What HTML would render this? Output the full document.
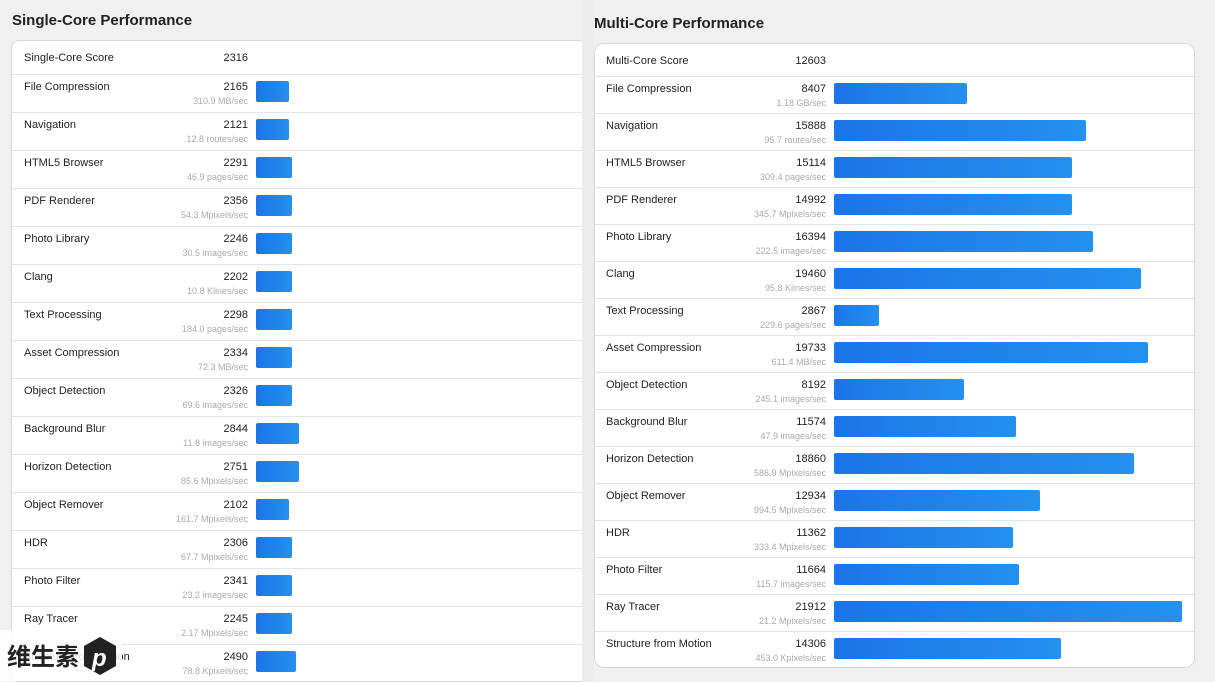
<!DOCTYPE html>
<html><head><meta charset="utf-8"><style>
*{margin:0;padding:0;box-sizing:border-box}
body{width:1215px;height:681px;background:#f0f0f0;font-family:"Liberation Sans",Arial,sans-serif;position:relative;overflow:hidden}
h2{position:absolute;font-size:15px;font-weight:bold;color:#222}
.panel{position:absolute;background:#fff;border:1px solid #d8d8d8;border-radius:8px;overflow:hidden}
.row{position:absolute;left:0;right:0;border-bottom:1px solid #e4e4e4}
.n{position:absolute;font-size:11px;color:#222}
.s{position:absolute;font-size:11px;color:#222;text-align:right;width:100px}
.u{position:absolute;font-size:9px;color:#aaa;text-align:right;width:140px}
.b{position:absolute;height:21px;border-radius:2px;background:linear-gradient(90deg,#1a75e8,#2590ee)}
.L .n{left:12px}.L .s{left:136px}.L .u{left:96px}.L .b{left:244px}
.R .n{left:11px}.R .s{left:131px}.R .u{left:91px}.R .b{left:239px}
.L .row{height:38px}.R .row{height:37px}
.L .n,.L .s,.R .n,.R .s{top:6px}.L .u,.R .u{top:21px}.L .b{top:6px}.R .b{top:6px}
.hdr .n,.hdr .s{top:11px}
</style></head><body>
<h2 style="left:12px;top:12px">Single-Core Performance</h2>
<h2 style="left:594px;top:15px">Multi-Core Performance</h2>
<div class="panel L" style="left:11px;top:40px;width:571px;height:642px;border-right:none;border-radius:8px 0 0 8px">
<div class="row hdr" style="top:0;height:34px"><span class="n">Single-Core Score</span><span class="s">2316</span></div>
<div class="row" style="top:34px"><span class="n">File Compression</span><span class="s">2165</span><span class="u">310.9 MB/sec</span><span class="b" style="width:33px"></span></div>
<div class="row" style="top:72px"><span class="n">Navigation</span><span class="s">2121</span><span class="u">12.8 routes/sec</span><span class="b" style="width:33px"></span></div>
<div class="row" style="top:110px"><span class="n">HTML5 Browser</span><span class="s">2291</span><span class="u">46.9 pages/sec</span><span class="b" style="width:36px"></span></div>
<div class="row" style="top:148px"><span class="n">PDF Renderer</span><span class="s">2356</span><span class="u">54.3 Mpixels/sec</span><span class="b" style="width:36px"></span></div>
<div class="row" style="top:186px"><span class="n">Photo Library</span><span class="s">2246</span><span class="u">30.5 images/sec</span><span class="b" style="width:36px"></span></div>
<div class="row" style="top:224px"><span class="n">Clang</span><span class="s">2202</span><span class="u">10.8 Klines/sec</span><span class="b" style="width:36px"></span></div>
<div class="row" style="top:262px"><span class="n">Text Processing</span><span class="s">2298</span><span class="u">184.0 pages/sec</span><span class="b" style="width:36px"></span></div>
<div class="row" style="top:300px"><span class="n">Asset Compression</span><span class="s">2334</span><span class="u">72.3 MB/sec</span><span class="b" style="width:36px"></span></div>
<div class="row" style="top:338px"><span class="n">Object Detection</span><span class="s">2326</span><span class="u">69.6 images/sec</span><span class="b" style="width:36px"></span></div>
<div class="row" style="top:376px"><span class="n">Background Blur</span><span class="s">2844</span><span class="u">11.8 images/sec</span><span class="b" style="width:43px"></span></div>
<div class="row" style="top:414px"><span class="n">Horizon Detection</span><span class="s">2751</span><span class="u">85.6 Mpixels/sec</span><span class="b" style="width:43px"></span></div>
<div class="row" style="top:452px"><span class="n">Object Remover</span><span class="s">2102</span><span class="u">161.7 Mpixels/sec</span><span class="b" style="width:33px"></span></div>
<div class="row" style="top:490px"><span class="n">HDR</span><span class="s">2306</span><span class="u">67.7 Mpixels/sec</span><span class="b" style="width:36px"></span></div>
<div class="row" style="top:528px"><span class="n">Photo Filter</span><span class="s">2341</span><span class="u">23.2 images/sec</span><span class="b" style="width:36px"></span></div>
<div class="row" style="top:566px"><span class="n">Ray Tracer</span><span class="s">2245</span><span class="u">2.17 Mpixels/sec</span><span class="b" style="width:36px"></span></div>
<div class="row" style="top:604px;border-bottom:2px solid #ddd"><span class="n">Structure from Motion</span><span class="s">2490</span><span class="u">78.8 Kpixels/sec</span><span class="b" style="width:40px"></span></div>
</div>
<div style="position:absolute;left:582px;top:0;width:12px;height:681px;background:#ececec"></div>
<div class="panel R" style="left:594px;top:43px;width:601px;height:625px;border-radius:10px">
<div class="row hdr" style="top:0;height:33px"><span class="n">Multi-Core Score</span><span class="s">12603</span></div>
<div class="row" style="top:33px"><span class="n">File Compression</span><span class="s">8407</span><span class="u">1.18 GB/sec</span><span class="b" style="width:133px"></span></div>
<div class="row" style="top:70px"><span class="n">Navigation</span><span class="s">15888</span><span class="u">95.7 routes/sec</span><span class="b" style="width:252px"></span></div>
<div class="row" style="top:107px"><span class="n">HTML5 Browser</span><span class="s">15114</span><span class="u">309.4 pages/sec</span><span class="b" style="width:238px"></span></div>
<div class="row" style="top:144px"><span class="n">PDF Renderer</span><span class="s">14992</span><span class="u">345.7 Mpixels/sec</span><span class="b" style="width:238px"></span></div>
<div class="row" style="top:181px"><span class="n">Photo Library</span><span class="s">16394</span><span class="u">222.5 images/sec</span><span class="b" style="width:259px"></span></div>
<div class="row" style="top:218px"><span class="n">Clang</span><span class="s">19460</span><span class="u">95.8 Klines/sec</span><span class="b" style="width:307px"></span></div>
<div class="row" style="top:255px"><span class="n">Text Processing</span><span class="s">2867</span><span class="u">229.6 pages/sec</span><span class="b" style="width:45px"></span></div>
<div class="row" style="top:292px"><span class="n">Asset Compression</span><span class="s">19733</span><span class="u">611.4 MB/sec</span><span class="b" style="width:314px"></span></div>
<div class="row" style="top:329px"><span class="n">Object Detection</span><span class="s">8192</span><span class="u">245.1 images/sec</span><span class="b" style="width:130px"></span></div>
<div class="row" style="top:366px"><span class="n">Background Blur</span><span class="s">11574</span><span class="u">47.9 images/sec</span><span class="b" style="width:182px"></span></div>
<div class="row" style="top:403px"><span class="n">Horizon Detection</span><span class="s">18860</span><span class="u">586.9 Mpixels/sec</span><span class="b" style="width:300px"></span></div>
<div class="row" style="top:440px"><span class="n">Object Remover</span><span class="s">12934</span><span class="u">994.5 Mpixels/sec</span><span class="b" style="width:206px"></span></div>
<div class="row" style="top:477px"><span class="n">HDR</span><span class="s">11362</span><span class="u">333.4 Mpixels/sec</span><span class="b" style="width:179px"></span></div>
<div class="row" style="top:514px"><span class="n">Photo Filter</span><span class="s">11664</span><span class="u">115.7 images/sec</span><span class="b" style="width:185px"></span></div>
<div class="row" style="top:551px"><span class="n">Ray Tracer</span><span class="s">21912</span><span class="u">21.2 Mpixels/sec</span><span class="b" style="width:348px"></span></div>
<div class="row" style="top:588px;border-bottom:none"><span class="n">Structure from Motion</span><span class="s">14306</span><span class="u">453.0 Kpixels/sec</span><span class="b" style="width:227px"></span></div>
</div>
<div style="position:absolute;left:0;top:630px;width:122px;height:51px;background:rgba(255,255,255,0.85);border-radius:0 6px 0 0"></div>
<div style="position:absolute;left:7px;top:640px;font-family:'Noto Sans CJK SC',sans-serif;font-weight:bold;font-size:24px;color:#222;line-height:30px">维生素</div>
<svg style="position:absolute;left:82px;top:636px" width="36" height="40" viewBox="0 0 36 40"><polygon points="18,1 34,10 34,30 18,39 2,30 2,10" fill="#222"/><text x="10" y="30" font-family="Liberation Sans" font-style="italic" font-weight="bold" font-size="24" fill="#fff">p</text></svg>
</body></html>
